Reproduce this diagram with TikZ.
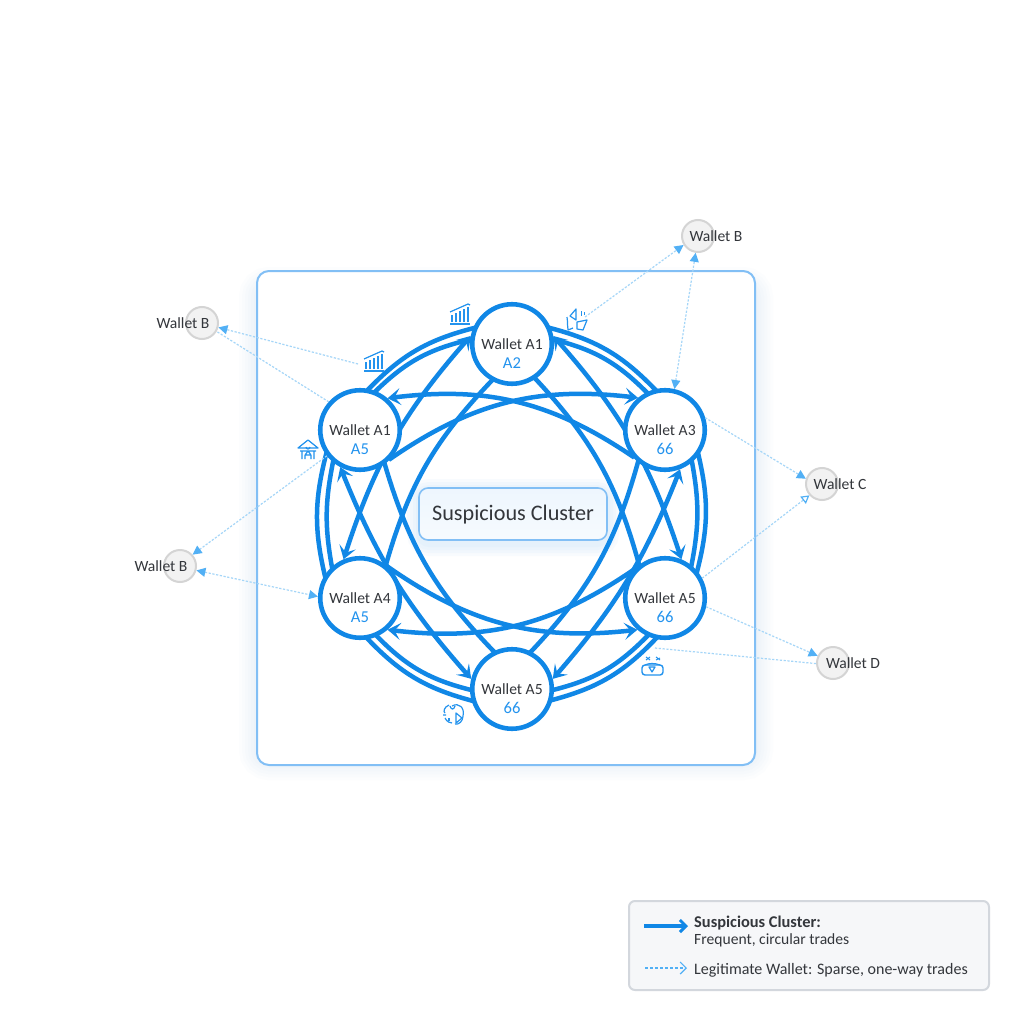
\documentclass[tikz,border=0pt]{standalone}
\usepackage{fontspec}
\setmainfont{Carlito}
\usetikzlibrary{arrows.meta,bending}
\definecolor{mainblue}{HTML}{1087E6}
\definecolor{subblue}{HTML}{2393EE}
\definecolor{framec}{HTML}{82BFF5}
\definecolor{thinl}{HTML}{A5D6F8}
\definecolor{headb}{HTML}{52B0F5}
\definecolor{ink}{HTML}{33363B}
\definecolor{lgfill}{HTML}{F6F7F9}
\definecolor{lgdraw}{HTML}{D3D7DD}
\pgfdeclarelayer{back}\pgfdeclarelayer{mid}
\pgfsetlayers{back,mid,main}
\tikzset{
  x=1pt,y=-1pt,
  wal/.style={circle,draw=mainblue,line width=4.6pt,fill=white,minimum size=79.5pt,inner sep=0pt},
  nm/.style={text=ink,font=\fontsize{15.6}{20}\selectfont,inner sep=0pt},
  sb/.style={text=subblue,font=\fontsize{16.6}{20}\selectfont,inner sep=0pt},
  ext/.style={circle,draw=black!17,line width=2pt,fill=black!5,minimum size=32pt,inner sep=0pt},
  extt/.style={text=ink,font=\fontsize{15.6}{18}\selectfont,inner sep=0pt},
  ring/.style={draw=mainblue,line width=4.5pt,shorten <=-3pt,shorten >=-3pt},
  chord/.style={draw=mainblue,line width=4.5pt,shorten <=-3pt,shorten >=-3pt},
  bighead/.tip={Stealth[length=13pt,width=17pt,inset=6pt]},
  fine/.style={draw=thinl,line width=1.2pt,dash pattern=on 2.2pt off 1.6pt},
  ltip/.tip={Triangle[length=9pt,width=9pt,color=headb,fill=headb]},
  ic/.style={draw=subblue,line width=1.2pt,line join=round},
  lgd/.style={text=ink,font=\fontsize{16}{18}\selectfont,inner sep=0pt,anchor=base west},
}
\begin{document}
\begin{tikzpicture}
\useasboundingbox (0,0) rectangle (1024,1024);
\begin{pgfonlayer}{back}
\fill[white] (0,0) rectangle (1024,1024);
% frame glow
\foreach \w in {36,30,24,18,12,6}{
  \draw[framec,opacity=.022,line width=\w pt,rounded corners=12pt] (257,285) rectangle (755,762);
}
\draw[framec,fill=white,line width=2pt,rounded corners=12pt] (257,271) rectangle (755,765);
% centre glow
\foreach \w in {24,18,12,6}{
  \draw[framec,opacity=.05,line width=\w pt,rounded corners=10pt] (419,491) rectangle (607,544);
}
\end{pgfonlayer}

\node[wal] (T) at (512,344) {};
\node[wal] (TL) at (360,430) {};
\node[wal] (TR) at (665,430) {};
\node[wal] (BL) at (360,598) {};
\node[wal] (BR) at (665,598) {};
\node[wal] (B) at (512,689) {};
\node[nm] at (T) {Wallet A1}; \node[sb,yshift=-19pt] at (T) {A2};
\node[nm] at (TL) {Wallet A1}; \node[sb,yshift=-19pt] at (TL) {A5};
\node[nm] at (TR) {Wallet A3}; \node[sb,yshift=-19pt] at (TR) {66};
\node[nm] at (BL) {Wallet A4}; \node[sb,yshift=-19pt] at (BL) {A5};
\node[nm] at (BR) {Wallet A5}; \node[sb,yshift=-19pt] at (BR) {66};
\node[nm] at (B) {Wallet A5}; \node[sb,yshift=-19pt] at (B) {66};

\begin{pgfonlayer}{mid}
% rings
\draw[ring] (T.158) to[bend right=16] (TL.78);
\draw[ring] (T.174) to[bend right=16] (TL.68);
\draw[ring] (TL.216) to[bend right=14] (BL.147);
\draw[ring] (TL.230) to[bend right=11] (BL.132);
\draw[ring] (BL.281) to[bend right=16] (B.196);
\draw[ring] (BL.294) to[bend right=16] (B.181);
\draw[ring] (B.345) to[bend right=16] (BR.257);
\draw[ring] (B.359) to[bend right=16] (BR.245);
\draw[ring] (BR.40) to[bend right=14] (TR.323);
\draw[ring] (BR.51) to[bend right=11] (TR.310);
\draw[ring] (TR.104) to[bend right=16] (T.22);
\draw[ring] (TR.116) to[bend right=16] (T.6);
% chords without heads
\draw[chord] (T.241) to[bend right=14] (BL.52);
\draw[chord] (T.304) to[bend left=14] (BR.128);
\draw[chord] (TL.306) to[bend right=14] (B.116);
\draw[chord] (TR.230) to[bend left=14] (B.63);
% double-headed chords
\draw[chord,shorten <=0pt,shorten >=0pt,bighead-bighead] (T.169) to[bend right=12] (BL.113);
\draw[chord,shorten <=0pt,shorten >=0pt,bighead-bighead] (T.11) to[bend left=12] (BR.67);
\draw[chord,shorten <=0pt,shorten >=0pt,bighead-bighead] (TL.242) to[bend right=10] (B.166);
\draw[chord,shorten <=0pt,shorten >=0pt,bighead-bighead] (TR.291) to[bend left=10] (B.14);
% horizontal arcs
\draw[chord,shorten >=0pt,-bighead] (TR.218) to[bend right=21] (TL.49);
\draw[chord,shorten >=0pt,-bighead] (TL.318) to[bend left=21] (TR.130);
\draw[chord,shorten >=0pt,-bighead] (BR.137) to[bend left=21] (BL.311);
\draw[chord,shorten >=0pt,-bighead] (BL.46) to[bend right=21] (BR.229);
\end{pgfonlayer}

% centre box
\node[draw=framec,line width=1.6pt,rounded corners=9pt,top color=white!86!framec,bottom color=white!93!framec,minimum width=188pt,minimum height=52pt,inner sep=0pt] (C) at (513,514) {};
\node[text=ink,font=\fontsize{22.2}{26}\selectfont,inner sep=0pt] at (513,515) {Suspicious Cluster};

% outer wallets
\node[ext] (W1) at (202,323) {}; \node[extt] at (183,323) {Wallet B};
\node[ext] (W2) at (180,566) {}; \node[extt] at (161,566) {Wallet B};
\node[ext] (W3) at (698,236) {}; \node[extt] at (716,236) {Wallet B};
\node[ext] (W4) at (822,484) {}; \node[extt] at (840,484) {Wallet C};
\node[ext] (W5) at (833,663) {}; \node[extt] at (853,663) {Wallet D};

\coordinate (i1) at (358,364);
\coordinate (i2) at (585,317);
\coordinate (i3) at (655,648);
\draw[fine,-ltip] (i1) -- (W1.345);
\draw[fine] (TL.138) -- (W1.330);
\draw[fine,-ltip] (TL.218) -- (W2.42);
\draw[fine,ltip-ltip] (W2.345) -- (BL.178);
\draw[fine,-ltip] (i2) -- (W3.212);
\draw[fine,ltip-ltip] (TR.77) -- (W3.262);
\draw[fine,-ltip] (TR.17) -- (W4.162);
\draw[fine,-{Triangle[length=8pt,width=9pt,color=headb,fill=white]}] (BR.28) -- (W4.222);
\draw[fine,-ltip] (BR.348) -- (W5.155);
\draw[fine] (W5.182) -- (i3);

% chart icons
\foreach \cx/\cy in {460/314,374/361}{
\begin{scope}[shift={(\cx,\cy)}]
  \draw[ic] (-10,10) -- (10,10);
  \foreach \bx/\by in {-8/1,-4/-1,0/-3,4/-5,8/-7}{ \draw[ic,line width=1.5pt] (\bx,8) -- (\bx,\by); }
  \draw[ic] (-10,-2) -- (8,-10) -- (10,-9);
\end{scope}}
% house icon
\begin{scope}[shift={(308,449)}]
  \draw[ic] (-10,-1) -- (0,-9) -- (10,-1) -- cycle;
  \draw[ic] (-2,-2) arc (180:0:2);
  \draw[ic] (-8,2) -- (8,2) (-6,2) -- (-6,10) (6,2) -- (6,10) (-3,6) -- (3,6) (-3,6)--(0,2)--(3,6) (-3,6)--(-3,10) (3,6)--(3,10);
\end{scope}
% triangle icon
\begin{scope}[shift={(577,319)}]
  \draw[ic] (-1,-10) -- (-7,-3) -- (-1,1) -- cycle;
  \draw[ic] (-10,-2) .. controls (-9,4) and (-10,7) .. (-9,11) -- (-4,9);
  \draw[ic] (0,3) -- (10,1) -- (6,11) -- (0,10) -- cycle;
  \draw[ic,line width=.8pt] (4,-8) -- (4,-3) (7,-7) -- (7,-4);
\end{scope}
% basket icon
\begin{scope}[shift={(652,666)}]
  \draw[ic,line width=1.4pt,rounded corners=3pt] (-10,-1) rectangle (11,9);
  \draw[ic] (-7,-1) .. controls (-3,-3) and (3,-3) .. (8,-1);
  \draw[ic] (-3,1) -- (3,1) -- (0,6) -- cycle;
  \draw[ic,line width=1pt] (-6,-9) -- (-2,-6) (-6,-6) -- (-2,-9) (4,-9) -- (8,-6) (4,-6) -- (8,-8);
\end{scope}
% brain icon
\begin{scope}[shift={(453,714)}]
  \draw[ic] (-1,-8) .. controls (6,-12) and (12,-6) .. (10,2) .. controls (10,7) and (6,11) .. (2,10);
  \draw[ic] (3,9) -- (3,-1) -- (9,4) -- cycle;
  \draw[ic] (-4,-9) .. controls (-9,-7) and (-10,-2) .. (-8,-1) (-10,1)--(-7,1) (-8,4) .. controls (-6,8) and (-3,9) .. (-1,9);
  \draw[ic] (-3,-8) .. controls (-2,-4) and (1,-4) .. (2,-8);
  \draw[ic,line width=1.6pt] (-4,4) -- (-4,7);
\end{scope}

% legend
\node[draw=lgdraw,line width=2pt,fill=lgfill,rounded corners=6pt,minimum width=360pt,minimum height=89pt,inner sep=0pt] (L) at (809,945.5) {};
\coordinate (l1a) at (644,926);\coordinate (l1b) at (688,926);
\coordinate (l2a) at (645,968);\coordinate (l2b) at (687,968);
\draw[draw=mainblue,line width=4pt,-{Straight Barb[length=6pt,width=12pt,line width=3pt]}] (l1a) -- (l1b);
\draw[draw=headb,line width=1.4pt,dash pattern=on 3pt off 2pt,-{Straight Barb[length=6pt,width=12pt,line width=1.2pt]}] (l2a) -- (l2b);
\node[lgd,font=\fontsize{16.4}{18}\bfseries\selectfont] at (694,927) {Suspicious Cluster:};
\node[lgd,font=\fontsize{15.6}{18}\selectfont] at (694,944) {Frequent, circular trades};
\node[lgd] at (694,974) {Legitimate Wallet: Sparse, one-way trades};
\end{tikzpicture}
\end{document}
